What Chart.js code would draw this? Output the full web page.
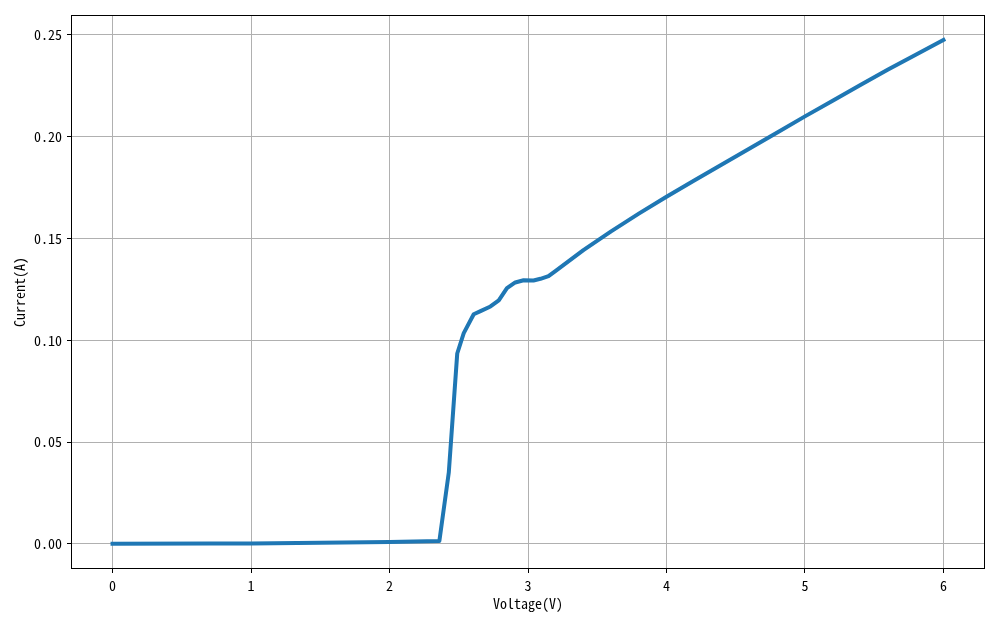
<!DOCTYPE html>
<html>
<head>
<meta charset="utf-8">
<script src="https://cdn.jsdelivr.net/npm/chart.js@4/dist/chart.umd.min.js"></script>
<style>
  html, body { margin: 0; padding: 0; background: #fff; }
  #wrap { width: 1000px; height: 625px; }
</style>
</head>
<body>
<div id="wrap"><canvas id="ivChart" width="1000" height="625"></canvas></div>
<script>
// ===== DATA =====
const voltage = [0, 0.7, 1.0, 1.5, 2.0, 2.36, 2.428, 2.489, 2.536, 2.608, 2.657, 2.729, 2.789, 2.848,
    2.908, 2.968, 3.04, 3.09, 3.148, 3.2, 3.4, 3.6, 3.8, 4.0, 4.2, 4.4, 4.6, 4.8, 5.0, 5.2, 5.4,
    5.6, 5.8, 6.0];
const current = [0, 0.0001, 0.0002, 0.0005, 0.0009, 0.0014, 0.035, 0.0935, 0.1035, 0.1128, 0.1143,
    0.1166, 0.1196, 0.1256, 0.1284, 0.1295, 0.1294, 0.1302, 0.1315, 0.1341, 0.1443, 0.1535, 0.1622,
    0.1705, 0.1785, 0.1864, 0.1942, 0.2021, 0.2100, 0.2177, 0.2254, 0.2330, 0.2403, 0.2475];
const xTicks = [0, 1, 2, 3, 4, 5, 6];
const yTicks = [0, 0.05, 0.10, 0.15, 0.20, 0.25];

const FONT = '"Noto Sans Mono CJK SC", "Noto Sans CJK SC", monospace';

// frame on all four sides, like matplotlib axes
const framePlugin = {
    id: 'frame',
    afterDraw(chart) {
        const { ctx, chartArea: a } = chart;
        ctx.save();
        ctx.strokeStyle = '#000';
        ctx.lineWidth = 1;
        ctx.strokeRect(a.left + 0.5, a.top + 0.5, a.right - a.left - 1, a.bottom - a.top - 1);
        ctx.restore();
    }
};

new Chart(document.getElementById('ivChart'), {
    type: 'scatter',
    data: {
        datasets: [{
            data: voltage.map((v, i) => ({ x: v, y: current[i] })),
            showLine: true,
            borderColor: '#1f77b4',
            borderWidth: 4,
            pointRadius: 0,
            tension: 0,
            borderJoinStyle: 'round',
            borderCapStyle: 'square'
        }]
    },
    options: {
        responsive: false,
        animation: false,
        layout: { padding: { top: 15, right: 15, left: 11, bottom: 13 } },
        plugins: { legend: { display: false }, tooltip: { enabled: false } },
        scales: {
            x: {
                type: 'linear',
                min: -0.3,
                max: 6.3,
                afterBuildTicks: axis => { axis.ticks = xTicks.map(v => ({ value: v })); },
                afterFit: axis => { axis.height = 43; },
                border: { display: false },
                grid: { color: '#b0b0b0', lineWidth: 1, tickColor: '#000', tickLength: 4 },
                ticks: {
                    color: '#000',
                    padding: 4,
                    maxRotation: 0,
                    font: { family: FONT, size: 14 },
                    callback: v => String(v)
                },
                title: {
                    display: true,
                    text: 'Voltage(V)',
                    color: '#000',
                    padding: { top: 0, bottom: 0 },
                    font: { family: FONT, size: 14 }
                }
            },
            y: {
                type: 'linear',
                min: -0.01237,
                max: 0.2598,
                afterBuildTicks: axis => { axis.ticks = yTicks.map(v => ({ value: v })); },
                afterFit: axis => { axis.width = 60; },
                border: { display: false },
                grid: { color: '#b0b0b0', lineWidth: 1, tickColor: '#000', tickLength: 4 },
                ticks: {
                    color: '#000',
                    padding: 5,
                    font: { family: FONT, size: 14 },
                    callback: v => Number(v).toFixed(2)
                },
                title: {
                    display: true,
                    text: 'Current(A)',
                    color: '#000',
                    padding: { top: 0, bottom: 0 },
                    font: { family: FONT, size: 14 }
                }
            }
        }
    },
    plugins: [framePlugin]
});
</script>
</body>
</html>
